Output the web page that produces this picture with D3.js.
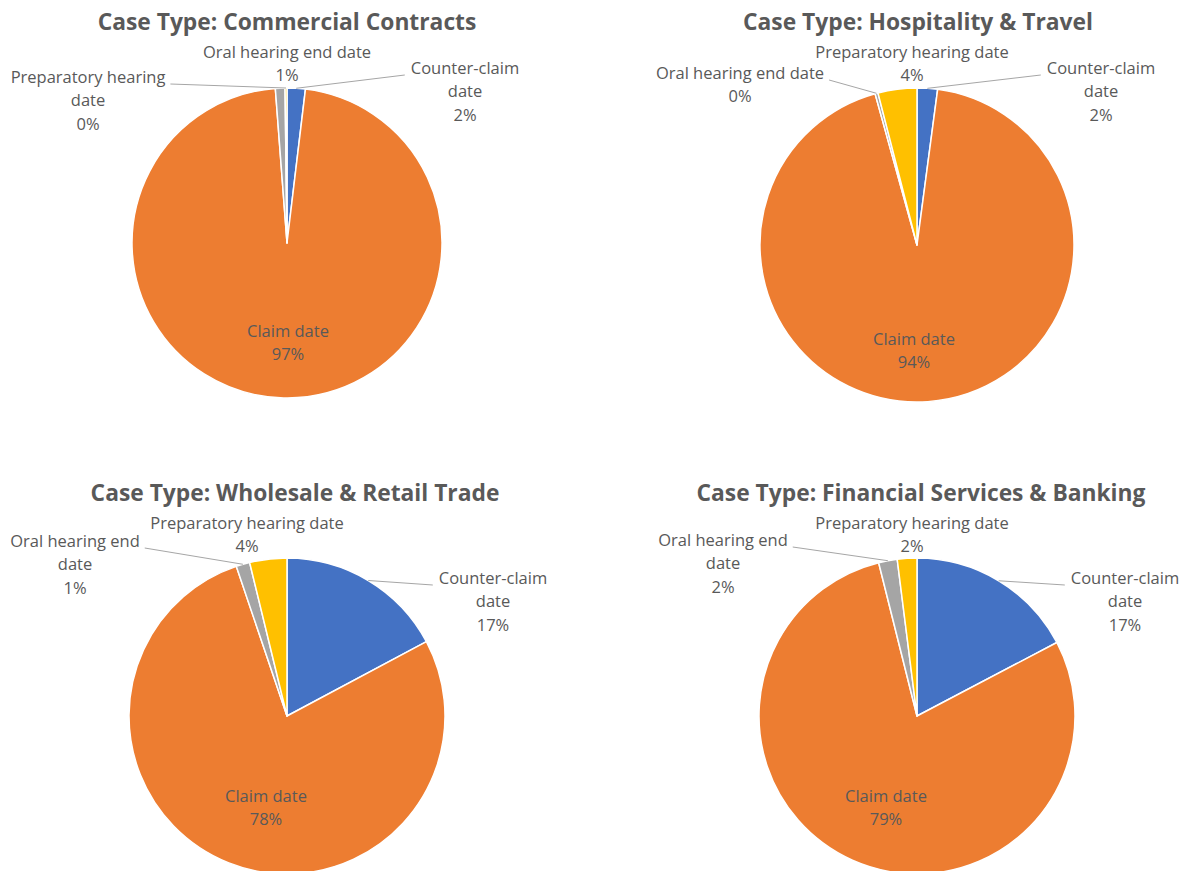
<!DOCTYPE html>
<html>
<head>
<meta charset="utf-8">
<script src="https://cdn.jsdelivr.net/npm/d3@7"></script>
<style>
  body { margin: 0; background: #fff; }
  svg { display: block; }
  .title { font-family: "Open Sans", sans-serif; font-weight: bold; font-size: 22.8px; fill: #595959; }
  .label { font-family: "Open Sans", sans-serif; font-size: 16.5px; fill: #595959; }
  .leader { stroke: #a6a6a6; stroke-width: 1; fill: none; }
</style>
</head>
<body>
<div id="container"></div>
<script>
var categories = ['Counter-claim date', 'Claim date', 'Oral hearing end date', 'Preparatory hearing date'];
var caseTypes = ['Commercial Contracts', 'Hospitality & Travel', 'Wholesale & Retail Trade', 'Financial Services & Banking'];
var commercialShares = [1.9, 96.9, 1.0, 0.2];
var hospitalityShares = [2.1, 93.6, 0.3, 4.0];
var wholesaleShares = [17.2, 77.6, 1.4, 3.8];
var financialShares = [17.3, 78.8, 1.9, 2.0];
var colors = ['#4472c4', '#ed7d31', '#a5a5a5', '#ffc000'];

var W = 1202, H = 871, lh = 23.5;

// layout per panel: label offsets from the pie centre, words on first line, leader on/off
var panels = [
  { values: commercialShares, cx: 287, cy: 243, r: 155, tx: 287, ty: 22.5,
    labels: [
      { dx: 178, dy: -175, br: 1, leader: true },
      { dx: 1, dy: 88, br: 2, leader: false },
      { dx: 0, dy: -191, br: 4, leader: false },
      { dx: -199, dy: -166, br: 2, leader: true }
    ] },
  { values: hospitalityShares, cx: 917, cy: 245, r: 157, tx: 918, ty: 22.5,
    labels: [
      { dx: 184, dy: -177, br: 1, leader: true },
      { dx: -3, dy: 94, br: 2, leader: false },
      { dx: -177, dy: -172, br: 4, leader: true },
      { dx: -5, dy: -193, br: 3, leader: false }
    ] },
  { values: wholesaleShares, cx: 287, cy: 716, r: 158, tx: 295, ty: 493.5,
    labels: [
      { dx: 206, dy: -138, br: 1, leader: true },
      { dx: -21, dy: 80, br: 2, leader: false },
      { dx: -212, dy: -175, br: 3, leader: true },
      { dx: -40, dy: -193, br: 3, leader: false }
    ] },
  { values: financialShares, cx: 917, cy: 716, r: 158, tx: 921, ty: 493.5,
    labels: [
      { dx: 208, dy: -138, br: 1, leader: true },
      { dx: -31, dy: 80, br: 2, leader: false },
      { dx: -194, dy: -176, br: 3, leader: true },
      { dx: -5, dy: -193, br: 3, leader: false }
    ] }
];

var svg = d3.select('#container')
  .append('svg')
  .attr('width', W).attr('height', H);

var pie = d3.pie().sort(null).value(function (d) { return d; });

panels.forEach(function (p, pi) {
  var g = svg.append('g');
  var arcs = pie(p.values);
  var total = d3.sum(p.values);
  var arc = d3.arc().innerRadius(0).outerRadius(p.r);
  var edge = d3.arc().innerRadius(p.r).outerRadius(p.r);

  g.append('text')
    .attr('class', 'title')
    .attr('x', p.tx).attr('y', p.ty)
    .attr('dy', '0.35em')
    .attr('text-anchor', 'middle')
    .text('Case Type: ' + caseTypes[pi]);

  var pg = g.append('g')
    .attr('transform', 'translate(' + p.cx + ',' + p.cy + ')');

  pg.selectAll('path')
    .data(arcs)
    .enter().append('path')
    .attr('d', arc)
    .attr('fill', function (d, i) { return colors[i]; })
    .attr('stroke', '#fff')
    .attr('stroke-width', 1.5)
    .attr('stroke-linejoin', 'round');

  arcs.forEach(function (a, i) {
    var lab = p.labels[i];
    var words = categories[i].split(' ');
    var lines = [words.slice(0, lab.br).join(' ')];
    if (lab.br < words.length) lines.push(words.slice(lab.br).join(' '));
    lines.push(Math.round(a.value / total * 100) + '%');

    var t = pg.append('text')
      .attr('class', 'label')
      .attr('text-anchor', 'middle');
    lines.forEach(function (s, k) {
      t.append('tspan')
        .attr('x', lab.dx)
        .attr('y', lab.dy + k * lh)
        .attr('dy', '0.35em')
        .text(s);
    });

    if (lab.leader) {
      var first = t.select('tspan').node().getBBox();
      var end = edge.centroid(a);
      var sx = lab.dx > 0 ? first.x - 6 : first.x + first.width + 5;
      var sy = lab.dy + 7;
      pg.insert('path', 'text')
        .attr('class', 'leader')
        .attr('d', 'M' + sx + ',' + sy + 'L' + end[0] + ',' + end[1]);
    }
  });
});
</script>
</body>
</html>
